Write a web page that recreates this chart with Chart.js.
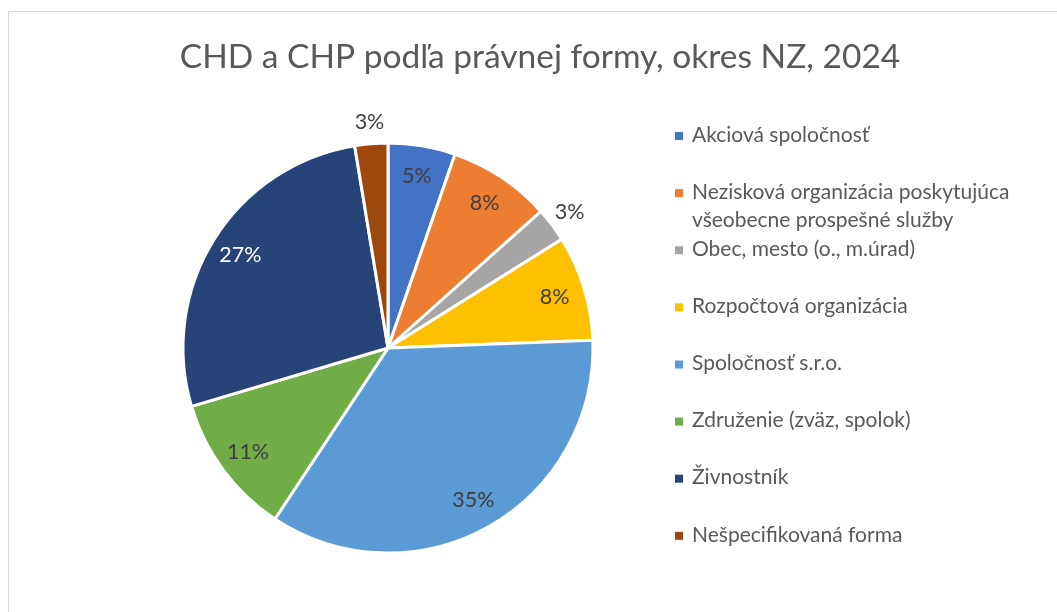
<!DOCTYPE html>
<html>
<head>
<meta charset="utf-8">
<script src="https://cdn.jsdelivr.net/npm/chart.js@4/dist/chart.umd.min.js"></script>
<style>
  html, body { margin: 0; padding: 0; background: #ffffff; }
  #wrap { width: 1057px; height: 612px; }
</style>
</head>
<body>
<div id="wrap"><canvas id="c" width="1057" height="612"></canvas></div>
<script>
const chartTitle = "CHD a CHP podľa právnej formy, okres NZ, 2024";
const categories = [
  "Akciová spoločnosť",
  ["Nezisková organizácia poskytujúca", "všeobecne prospešné služby"],
  "Obec, mesto (o., m.úrad)",
  "Rozpočtová organizácia",
  "Spoločnosť s.r.o.",
  "Združenie (zväz, spolok)",
  "Živnostník",
  "Nešpecifikovaná forma"
];
const shares = [5.3, 8.1, 2.7, 8.3, 34.9, 11.1, 27.0, 2.6];

const sliceColors = ["#4472C4", "#ED7D31", "#A5A5A5", "#FFC000", "#5B9BD5", "#70AD47", "#264478", "#9E480E"];
const labelInk = ["#404040", "#404040", "#404040", "#404040", "#404040", "#404040", "#FFFFFF", "#404040"];
const FONT = "Lato, 'Open Sans', sans-serif";

const decor = {
  id: "decor",
  beforeDraw(chart) {
    const ctx = chart.ctx;
    ctx.save();
    ctx.fillStyle = "#ffffff";
    ctx.fillRect(0, 0, chart.width, chart.height);
    ctx.strokeStyle = "#D9D9D9";
    ctx.lineWidth = 1;
    ctx.beginPath();
    ctx.moveTo(8.5, chart.height + 5);
    ctx.lineTo(8.5, 11.5);
    ctx.lineTo(chart.width + 5, 11.5);
    ctx.stroke();
    // title
    ctx.fillStyle = "#595959";
    ctx.font = "33.5px " + FONT;
    ctx.textAlign = "center";
    ctx.textBaseline = "alphabetic";
    ctx.fillText(chartTitle, 540, 68);
    ctx.restore();
  },
  afterDraw(chart) {
    const ctx = chart.ctx;
    const meta = chart.getDatasetMeta(0);
    const data = chart.data.datasets[0].data;
    const total = data.reduce((a, b) => a + b, 0);
    ctx.save();
    // data labels
    ctx.font = "21.5px " + FONT;
    ctx.textAlign = "center";
    ctx.textBaseline = "middle";
    meta.data.forEach((arc, i) => {
      const p = arc.getProps(["x", "y", "startAngle", "endAngle", "outerRadius"], true);
      const mid = (p.startAngle + p.endAngle) / 2;
      const pct = data[i] / total * 100;
      const outside = pct < 4;
      const d = outside ? p.outerRadius + 22 : p.outerRadius * 0.85;
      const lx = p.x + Math.cos(mid) * d;
      const ly = p.y + Math.sin(mid) * d;
      ctx.fillStyle = outside ? "#404040" : labelInk[i];
      ctx.fillText(Math.round(pct) + "%", lx, ly);
    });
    // legend
    ctx.font = "21px " + FONT;
    ctx.textAlign = "left";
    ctx.textBaseline = "alphabetic";
    const labels = chart.data.labels;
    labels.forEach((lab, i) => {
      const base = 141.7 + 57.12 * i;
      ctx.fillStyle = sliceColors[i];
      ctx.fillRect(675, base - 9.7, 8, 8);
      ctx.fillStyle = "#595959";
      const lines = Array.isArray(lab) ? lab : [lab];
      lines.forEach((t, j) => ctx.fillText(t, 692, base + 28.56 * j));
    });
    ctx.restore();
  }
};

new Chart(document.getElementById("c"), {
  type: "pie",
  data: {
    labels: categories,
    datasets: [{
      data: shares,
      backgroundColor: sliceColors,
      borderColor: "#ffffff",
      borderWidth: 3
    }]
  },
  options: {
    responsive: false,
    animation: false,
    radius: 205,
    layout: { padding: { left: 184, right: 465, top: 144, bottom: 60 } },
    plugins: {
      legend: { display: false },
      title: { display: false },
      tooltip: { enabled: false }
    }
  },
  plugins: [decor]
});
</script>
</body>
</html>
